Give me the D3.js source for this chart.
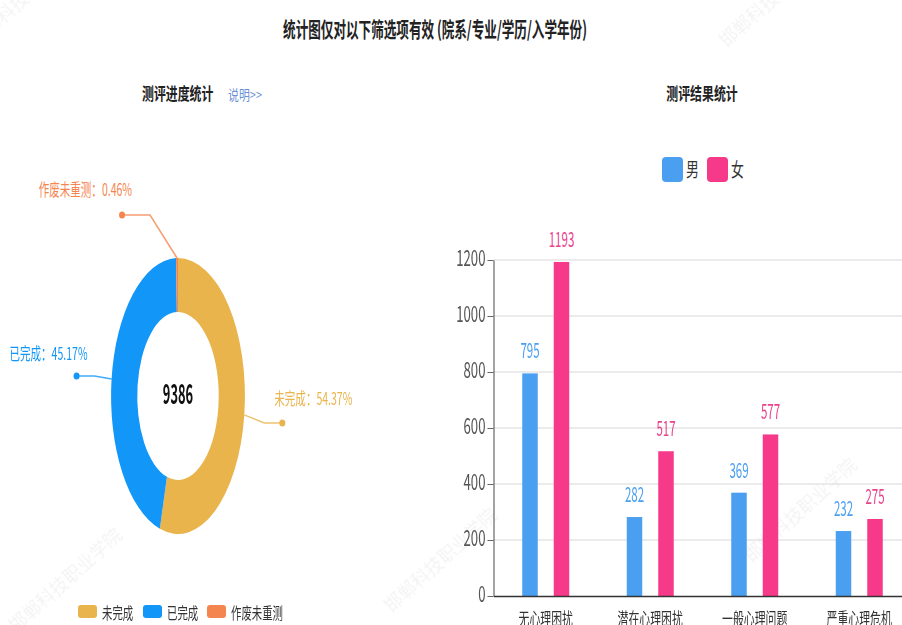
<!DOCTYPE html>
<html>
<head>
<meta charset="utf-8">
<script src="https://cdn.jsdelivr.net/npm/d3@7"></script>
<style>
  body { margin: 0; background: #fff; }
  text { font-family: "Noto Sans CJK SC", "Noto Sans", sans-serif; }
</style>
</head>
<body>
<div id="chart"></div>
<script>
// data
const pieNames = ["未完成", "已完成", "作废未重测"];
const pieValues = [5103, 4240, 43];
const barCategories = ["无心理困扰", "潜在心理困扰", "一般心理问题", "严重心理危机"];
const barSeries = ["男", "女"];
const maleValues = [795, 282, 369, 232];
const femaleValues = [1193, 517, 577, 275];
const yTicks = [0, 200, 400, 600, 800, 1000, 1200];

const width = 902, height = 625;
const svg = d3.select("#chart").append("svg")
    .attr("width", width)
    .attr("height", height)
    .attr("viewBox", [0, 0, width, height]);

// text helper, glyphs are squeezed horizontally like the reference
function txt(g, x, y, s, o) {
    return g.append("text")
        .attr("transform", `translate(${x},${y}) scale(${o.sx || 1},1)`)
        .attr("text-anchor", o.anchor || "start")
        .attr("font-size", o.size)
        .attr("font-weight", o.weight || "normal")
        .attr("fill", o.fill || "#333")
        .text(s);
}

// watermark
const wm = svg.append("g").attr("fill", "#000").attr("opacity", 0.05);
[[70, 585], [445, 565], [805, 515], [30, 0], [780, 0]].forEach(p => {
    wm.append("text")
        .attr("transform", `translate(${p[0]},${p[1]}) rotate(-42)`)
        .attr("text-anchor", "middle")
        .attr("font-size", 18)
        .text("邯郸科技职业学院");
});

txt(svg, 435, 37, "统计图仅对以下筛选项有效 (院系/专业/学历/入学年份)",
    {size: 21, weight: "bold", anchor: "middle", sx: 0.6, fill: "#222"});

// ---------- donut ----------
txt(svg, 142, 100, "测评进度统计", {size: 17, weight: "bold", sx: 0.7, fill: "#222"});
txt(svg, 228, 100, "说明>>", {size: 14, sx: 0.78, fill: "#6a8fd6"});

const pieColor = d3.scaleOrdinal().domain(pieNames).range(["#e9b44c", "#1296f8", "#f5854f"]);
const total = d3.sum(pieValues);
const pieData = pieNames.map((n, i) => ({name: n, value: pieValues[i]}));
const cx = 178, cy = 396, rOut = 138, rIn = 84, squeeze = 0.485;

const arcs = d3.pie().sort(null).value(d => d.value)(pieData);
const arc = d3.arc().innerRadius(rIn).outerRadius(rOut);

svg.append("g")
    .attr("transform", `translate(${cx},${cy}) scale(${squeeze},1)`)
    .selectAll("path")
    .data(arcs)
    .enter()
    .append("path")
    .attr("d", arc)
    .attr("fill", d => pieColor(d.data.name));

txt(svg, cx, cy + 8, d3.sum(pieValues), {size: 28, weight: "bold", anchor: "middle", sx: 0.46, fill: "#111"});

// label layout: elbow offset and horizontal run from the arc edge
const labelLayout = {
    "未完成":   {dx: 20, dy: 8, run: 18, tx: -8, ty: -18, anchor: "start"},
    "已完成":   {dx: -17, dy: -3, run: -18, tx: 11, ty: -16, anchor: "end"},
    "作废未重测": {dx: -27, dy: -43, run: -28, tx: 10, ty: -19, anchor: "end"}
};
arcs.forEach(d => {
    const a = (d.startAngle + d.endAngle) / 2;
    const lay = labelLayout[d.data.name];
    const c = pieColor(d.data.name);
    const p0 = [cx + Math.sin(a) * rOut * squeeze, cy - Math.cos(a) * rOut];
    const p1 = [p0[0] + lay.dx, p0[1] + lay.dy];
    const p2 = [p1[0] + lay.run, p1[1]];
    svg.append("path")
        .attr("d", d3.line()([p0, p1, p2]))
        .attr("fill", "none")
        .attr("stroke", c)
        .attr("stroke-opacity", 0.8)
        .attr("stroke-width", 1.5);
    svg.append("ellipse")
        .attr("cx", p2[0]).attr("cy", p2[1])
        .attr("rx", 3).attr("ry", 3.5)
        .attr("fill", c);
    const pct = (d.data.value / total * 100).toFixed(2);
    txt(svg, p2[0] + lay.tx, p2[1] + lay.ty, `${d.data.name}：${pct}%`,
        {size: 17, sx: 0.62, anchor: lay.anchor, fill: c});
});

// donut legend
const pieLegX = [78, 143, 207];
pieNames.forEach((n, i) => {
    svg.append("rect")
        .attr("x", pieLegX[i]).attr("y", 605)
        .attr("width", 19).attr("height", 13).attr("rx", 3)
        .attr("fill", pieColor(n));
    txt(svg, pieLegX[i] + 24, 619, n, {size: 16, sx: 0.65, fill: "#333"});
});

// ---------- bars ----------
txt(svg, 702, 100, "测评结果统计", {size: 17, weight: "bold", anchor: "middle", sx: 0.7, fill: "#222"});

const barColor = d3.scaleOrdinal().domain(barSeries).range(["#4a9ff0", "#f7398a"]);
const labelColor = d3.scaleOrdinal().domain(barSeries).range(["#4a9ff0", "#e8448c"]);
const barLegX = [662, 707];
barSeries.forEach((s, i) => {
    svg.append("rect")
        .attr("x", barLegX[i]).attr("y", 157)
        .attr("width", 21).attr("height", 25).attr("rx", 4)
        .attr("fill", barColor(s));
    txt(svg, barLegX[i] + 24, 177, s, {size: 19, sx: 0.68, fill: "#333"});
});

const plot = {l: 493.5, b: 596, t: 260};
const x0 = d3.scaleBand().domain(barCategories).range([plot.l, plot.l + 4 * 104.5]);
const x1 = d3.scaleBand().domain(barSeries)
    .range([x0.bandwidth() / 2 - 23.5, x0.bandwidth() / 2 + 23.5])
    .paddingInner(0.508);
const y = d3.scaleLinear().domain([0, 1200]).range([plot.b, plot.t]);

// grid
svg.append("g")
    .selectAll("line")
    .data(yTicks.filter(t => t > 0))
    .enter()
    .append("line")
    .attr("x1", plot.l).attr("x2", width)
    .attr("y1", d => y(d)).attr("y2", d => y(d))
    .attr("stroke", "#d8d8d8")
    .attr("stroke-width", 1.2);

// y axis
const yAxis = svg.append("g")
    .attr("transform", `translate(${plot.l},0)`)
    .call(d3.axisLeft(y).tickValues(yTicks).tickSize(6).tickSizeOuter(0).tickFormat(""));
yAxis.select(".domain").attr("stroke", "#666").attr("stroke-width", 1.2);
yAxis.selectAll(".tick line").attr("stroke", "#666");
yTicks.forEach(t => {
    txt(svg, plot.l - 8, y(t) + 6, t, {size: 22, sx: 0.6, anchor: "end", fill: "#555"});
});

const rows = barCategories.map((c, i) => ({cat: c, "男": maleValues[i], "女": femaleValues[i]}));
const groups = svg.append("g")
    .selectAll("g")
    .data(rows)
    .enter()
    .append("g")
    .attr("transform", d => `translate(${x0(d.cat)},0)`);

groups.selectAll("rect")
    .data(d => barSeries.map(s => ({s: s, v: d[s]})))
    .enter()
    .append("rect")
    .attr("x", d => x1(d.s))
    .attr("y", d => y(d.v))
    .attr("width", x1.bandwidth())
    .attr("height", d => y(0) - y(d.v))
    .attr("fill", d => barColor(d.s));

rows.forEach(r => {
    barSeries.forEach(s => {
        txt(svg, x0(r.cat) + x1(s) + x1.bandwidth() / 2, y(r[s]) - 15, r[s],
            {size: 21, sx: 0.55, anchor: "middle", fill: labelColor(s)});
    });
});

// x axis
const xAxis = svg.append("g")
    .attr("transform", `translate(0,${plot.b})`)
    .call(d3.axisBottom(x0).tickSize(0).tickFormat(""));
xAxis.select(".domain").attr("stroke", "#333").attr("stroke-width", 1.5);
barCategories.forEach(c => {
    txt(svg, x0(c) + x0.bandwidth() / 2, 625, c, {size: 17, sx: 0.64, anchor: "middle", fill: "#333"});
});
</script>
</body>
</html>
